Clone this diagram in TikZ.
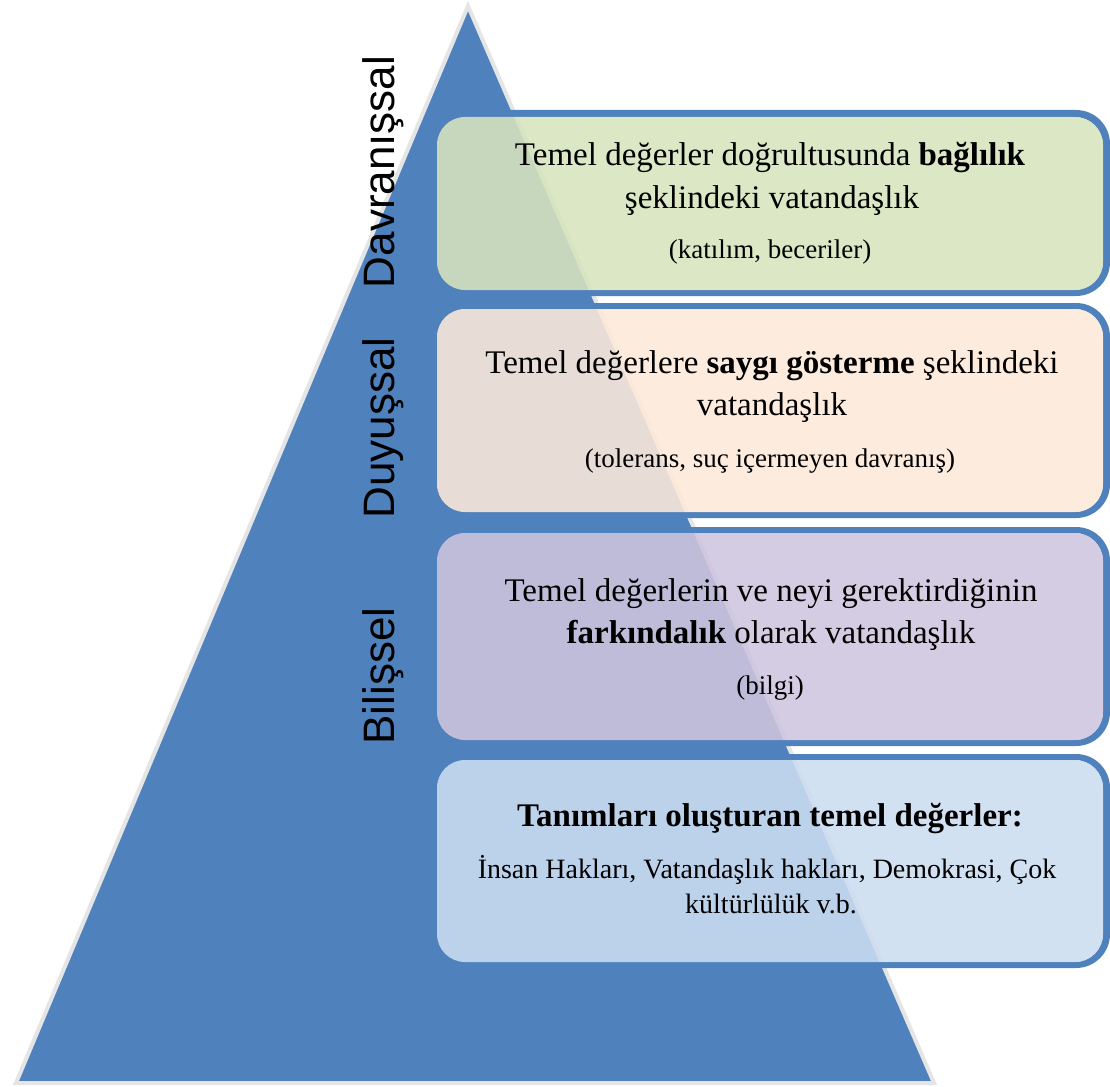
\documentclass[tikz,border=0pt]{standalone}
\usepackage{fontspec}
\setmainfont{Liberation Serif}
\newfontfamily\labelsans{Liberation Sans}
\begin{document}
\begin{tikzpicture}[x=1pt,y=-1pt,
  pyr/.style={fill=pyrblue, draw=black!10, line width=4pt, line join=miter},
  frame/.style={fill=pyrblue, even odd rule},
  card/.style={fill opacity=0.88},
  maintext/.style={anchor=base, inner sep=0pt, font=\fontsize{33}{40}\selectfont},
  notetext/.style={anchor=base, inner sep=0pt, font=\fontsize{27}{32}\selectfont},
  listtext/.style={anchor=base, inner sep=0pt, font=\fontsize{28}{34}\selectfont},
  side/.style={rotate=90, anchor=base, inner sep=0pt, font=\labelsans\fontsize{44}{50}\selectfont}
]
\definecolor{pyrblue}{RGB}{79,129,189}
\definecolor{cardgreen}{RGB}{215,228,189}
\definecolor{cardpeach}{RGB}{253,234,218}
\definecolor{cardlilac}{RGB}{207,197,223}
\definecolor{cardsky}{RGB}{204,221,241}

\useasboundingbox (0,0) rectangle (1110,1086);
\fill[white] (0,0) rectangle (1110,1086);

% pyramid
\filldraw[pyr] (468,6) -- (934,1083) -- (16,1083) -- cycle;

% framed cards (blue ring + translucent pastel panel)
\fill[frame, rounded corners=34] (432,110) rectangle (1110,296)
  [rounded corners=28] (437,117) rectangle (1103,290);
\fill[cardgreen, card, rounded corners=28] (437,117) rectangle (1103,290);

\fill[frame, rounded corners=34] (432,303) rectangle (1110,518)
  [rounded corners=28] (437,309) rectangle (1103,512);
\fill[cardpeach, card, rounded corners=28] (437,309) rectangle (1103,512);

\fill[frame, rounded corners=34] (432,527) rectangle (1110,746)
  [rounded corners=28] (437,533) rectangle (1103,740);
\fill[cardlilac, card, rounded corners=28] (437,533) rectangle (1103,740);

\fill[frame, rounded corners=34] (432,754) rectangle (1110,968)
  [rounded corners=28] (437,760) rectangle (1103,962);
\fill[cardsky, card, rounded corners=28] (437,760) rectangle (1103,962);

% level labels
\node[side] (davr) at (394,172) {Davranışsal};
\node[side] (duyu) at (394,428) {Duyuşsal};
\node[side] (bili) at (394,676) {Bilişsel};

% card texts
\node[maintext] (b1a) at (770,166) {Temel değerler doğrultusunda \textbf{bağlılık}};
\node[maintext] (b1b) at (772,208) {şeklindeki vatandaşlık};
\node[notetext] (b1c) at (770,258) {(katılım, beceriler)};

\node[maintext] (b2a) at (772,373) {Temel değerlere \textbf{saygı gösterme} şeklindeki};
\node[maintext] (b2b) at (772,415) {vatandaşlık};
\node[notetext] (b2c) at (770,467) {(tolerans, suç içermeyen davranış)};

\node[maintext] (b3a) at (771,601) {Temel değerlerin ve neyi gerektirdiğinin};
\node[maintext] (b3b) at (771,643) {\textbf{farkındalık} olarak vatandaşlık};
\node[notetext] (b3c) at (770,694) {(bilgi)};

\node[maintext] (b4a) at (770,826) {\textbf{Tanımları oluşturan temel değerler:}};
\node[listtext] (b4b) at (767,878) {İnsan Hakları, Vatandaşlık hakları, Demokrasi, Çok};
\node[listtext] (b4c) at (771,913) {kültürlülük v.b.};
\end{tikzpicture}
\end{document}
